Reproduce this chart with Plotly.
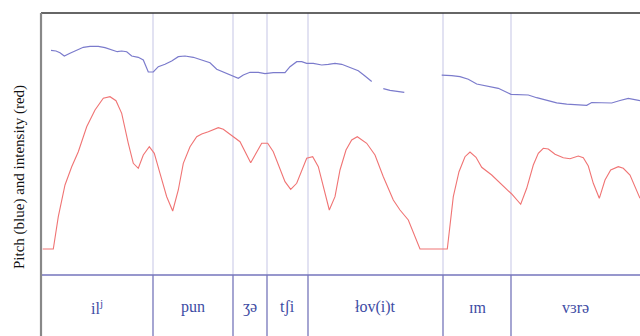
import plotly.graph_objects as go

# Time axis (arbitrary units) and contour heights
pitch_t = [51, 56, 60, 64.3, 70, 76.7, 83.3, 90, 98.3, 105, 111.7, 117.3, 121.7, 126.7, 131.7,
           138.3, 143.3, 148.3, 153.3, 158.3, 165, 171.7, 178.3, 185, 193.3, 201.7, 210,
           216.7, 223.3, 230, 238.3, 243.3, 250, 258.3, 265, 273.3, 285, 290, 296.7, 301.7,
           306.7, 313.3, 321.7, 328.3, 335, 341.7, 350, 358.3, 365, 371.7, None,
           383.3, 390, 404.3, None,
           441.7, 451.7, 460, 468.3, 476.7, 486.7, 498.3, 511, 520, 528.3, 536.7, 546.7,
           556.7, 566.7, 576.7, 586.7, 591.7, 601.7, 611.7, 620, 628.3, 640]
pitch_v = [50.3, 51, 52.7, 56, 53.3, 50, 47.3, 46.3, 46.3, 47.7, 50, 51.7, 51, 51.7, 56,
           57.3, 60, 72, 72, 66.7, 64.3, 61, 56.7, 56, 57.3, 60, 62.7,
           69.3, 72.3, 74.7, 78.3, 75, 72.3, 72.3, 73.7, 72.7, 72.7, 66.7, 61.7, 61.7,
           63.3, 63.3, 65, 64.3, 63.3, 64.3, 67.3, 70.7, 76, 81.5, None,
           88.7, 90.3, 92.3, None,
           75.2, 75.6, 76.7, 79.3, 84, 85.7, 88.3, 94.3, 94.3, 95, 97.7, 100.5,
           102.8, 104.2, 104.8, 105.3, 102.5, 103, 103, 100.5, 98.3, 100.7]

inten_t = [42.7, 53.3, 58.3, 65, 71.7, 78.3, 86.7, 95, 103.3, 110, 116, 121.7, 128.3, 133.3,
           138.3, 143.3, 149.3, 154.3, 160, 166.7, 172.7, 178.3, 183.3, 190, 196.7, 201.7,
           208.3, 218.3, 223.3, 230, 233.3, 240, 250.7, 261.7, 267.7, 273.3, 285, 290.7,
           296.7, 306.7, 312.7, 318.3, 329.3, 335, 340, 346, 351.7, 357.3, 366.7, 375,
           383.3, 393.3, 400, 408.3, 420, 447.3, 453.3, 459, 465, 470, 476, 481.7, 491.7,
           501.7, 511.7, 520.7, 526.7, 533.3, 538.3, 543.3, 548.3, 555, 563.3, 570, 578.3,
           583.3, 588.3, 593.3, 599.3, 605, 610.7, 618.3, 623.3, 630, 640]
inten_py = [249, 249, 216.7, 185, 166.7, 151.7, 126.7, 110, 98.3, 96.7, 100.7, 113.3, 143.3,
            163.3, 168.3, 155, 146.7, 153.3, 173.3, 196.7, 211, 190, 163.3, 146.7, 136.7,
            134, 131.7, 127.7, 129.3, 134, 136.7, 141.7, 162.7, 143.3, 143.3, 151.7, 181.7,
            189.3, 183.3, 158.3, 156.7, 166.7, 210, 196.7, 170, 150, 140, 136.7, 143.3, 155,
            176.7, 200, 210, 220, 249, 249, 196.7, 171.7, 156.7, 152, 157.3, 167.3, 175,
            184, 194, 204.3, 188.3, 165, 153.3, 148.3, 149, 154.3, 157.7, 158.7, 156,
            157.7, 166, 183.3, 198.3, 180, 170, 166.7, 168.3, 175, 198.3]

H = 336
pitch_y = [None if v is None else H - v for v in pitch_v]
inten_y = [H - v for v in inten_py]

# Segment boundaries and transcriptions
bounds = [41, 153, 233, 267, 308, 443, 511, 640]
labels = ["il<sup>j</sup>", "pun", "ʒə", "tʃi", "łov(i)t", "ɪm", "vɜrə"]

tier_top = H - 275     # top of the transcription tier
label_y = H - 307
y_top = H - 13

SERIF = "Liberation Serif, DejaVu Serif, serif"

fig = go.Figure()
fig.add_trace(go.Scatter(x=pitch_t, y=pitch_y, mode="lines", connectgaps=False,
                         line=dict(color="#7b7bcc", width=1.2), hoverinfo="skip"))
fig.add_trace(go.Scatter(x=inten_t, y=inten_y, mode="lines",
                         line=dict(color="#f07474", width=1.1), hoverinfo="skip"))

shapes = []
for b in bounds[1:-1]:
    shapes.append(dict(type="line", x0=b, x1=b, y0=tier_top, y1=y_top, layer="below",
                       line=dict(color="#cfcfea", width=1.2)))
    shapes.append(dict(type="line", x0=b, x1=b, y0=0, y1=tier_top, layer="below",
                       line=dict(color="#6a6ab4", width=1.2)))
shapes.append(dict(type="line", x0=41, x1=640, y0=tier_top, y1=tier_top,
                   line=dict(color="#7474bc", width=1.3)))
shapes.append(dict(type="line", x0=41, x1=640, y0=y_top, y1=y_top,
                   line=dict(color="#333333", width=1.5)))
shapes.append(dict(type="line", x0=41, x1=41, y0=0, y1=y_top,
                   line=dict(color="#888888", width=2.2)))

annotations = []
for i, lab in enumerate(labels):
    annotations.append(dict(x=(bounds[i] + bounds[i + 1]) / 2, y=label_y, text=lab,
                            showarrow=False, xanchor="center", yanchor="middle",
                            font=dict(family=SERIF, size=16, color="#3d4ba4")))
annotations.append(dict(x=19, y=H - 177, text="Pitch (blue) and intensity (red)",
                        textangle=-90, showarrow=False, xanchor="center", yanchor="middle",
                        font=dict(family=SERIF, size=15, color="#111111")))

fig.update_layout(
    width=640, height=336,
    margin=dict(l=0, r=0, t=0, b=0),
    paper_bgcolor="white", plot_bgcolor="white",
    showlegend=False,
    font=dict(family=SERIF),
    xaxis=dict(range=[0, 640], visible=False, fixedrange=True),
    yaxis=dict(range=[0, H], visible=False, fixedrange=True),
    shapes=shapes, annotations=annotations,
)

fig.write_html("out.html", config={"displayModeBar": False})
